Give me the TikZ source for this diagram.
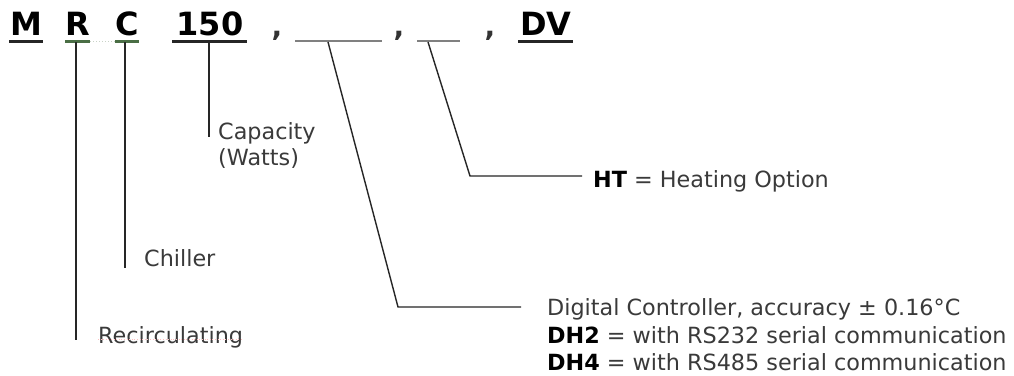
\documentclass[tikz,border=0pt]{standalone}
\usepackage{fontspec}
\setmainfont{DejaVu Sans}
\definecolor{txt}{HTML}{3A3A3A}
\definecolor{linec}{HTML}{262626}
\definecolor{ulgreen}{HTML}{4A6E45}
\definecolor{ulgray}{HTML}{808080}
\tikzset{
  code/.style={font=\bfseries\fontsize{32}{32}\selectfont, inner sep=0pt, anchor=base},
  sep/.style={font=\bfseries\fontsize{28}{28}\selectfont, text=black!80, inner sep=0pt, anchor=base},
  lbl/.style={font=\fontsize{22.3}{26}\selectfont, text=txt, inner sep=0pt, anchor=base west},
  conn/.style={draw=linec, line width=1.4pt},
  ulblack/.style={draw=black!85, line width=3pt},
  ulgr/.style={draw=ulgreen, line width=3pt},
  ulblank/.style={draw=ulgray, line width=2.2pt},
}
\begin{document}
\begin{tikzpicture}[x=1pt,y=-1pt]
\useasboundingbox[fill=white] (0,0) rectangle (1014,375);
% code segments
\node[code] (M) at (26,35) {M};
\node[code] (R) at (78,35) {R};
\node[code] (C) at (127,35) {C};
\node[code] (N) at (210,35) {150};
\node[sep] (c1) at (277,36) {,};
\node[sep] (c2) at (399,36) {,};
\node[sep] (c3) at (490,36) {,};
\node[code] (DV) at (546,35) {DV};
% underlines
\coordinate (uM1) at (9,41);  \coordinate (uM2) at (43,41);
\coordinate (uR1) at (65,41); \coordinate (uR2) at (90,41);
\coordinate (uC1) at (115,41); \coordinate (uC2) at (139,41);
\coordinate (uN1) at (172,41); \coordinate (uN2) at (247,41);
\coordinate (uA1) at (295,41); \coordinate (uA2) at (382,41);
\coordinate (uB1) at (417,41); \coordinate (uB2) at (460,41);
\coordinate (uD1) at (518,41); \coordinate (uD2) at (573,41);
\draw[ulblack] (uM1) -- (uM2);
\draw[ulgr] (uR1) -- (uR2);
\draw[ulgr] (uC1) -- (uC2);
\draw[draw=ulgreen!30, line width=1pt, dotted] (uR2) -- (uC1);
\draw[ulblack] (uN1) -- (uN2);
\draw[ulblank] (uA1) -- (uA2);
\draw[ulblank] (uB1) -- (uB2);
\draw[ulblack] (uD1) -- (uD2);
% labels
\node[lbl] (rec) at (98,343) {Recirculating};
\draw[draw=red!25, line width=0.6pt, dotted] ([yshift=4pt]rec.base west) -- ([yshift=4pt]rec.base east);
\node[lbl] (chi) at (144,266) {Chiller};
\node[lbl] (cap1) at (218,139) {Capacity};
\node[lbl] (cap2) at (218,165) {(Watts)};
\node[lbl] (ht) at (593,187) {\textbf{\color{black}HT} = Heating Option};
\node[lbl] (dc1) at (547,315) {Digital Controller, accuracy ± 0.16°C};
\node[lbl] (dc2) at (547,343) {\textbf{\color{black}DH2} = with RS232 serial communication};
\node[lbl] (dc3) at (547,370) {\textbf{\color{black}DH4} = with RS485 serial communication};
% connectors
\coordinate (eR) at (76,340);
\coordinate (eC) at (125,268);
\coordinate (eN) at (209,137);
\coordinate (sA) at (328,42);
\coordinate (kA) at (398,307);
\coordinate (eA) at (521,307);
\coordinate (sB) at (428,42);
\coordinate (kB) at (470,176);
\coordinate (eB) at (582,176);
\draw[conn] (76,42) -- (eR);
\draw[conn] (125,42) -- (eC);
\draw[conn] (209,42) -- (eN);
\draw[conn] (sA) -- (kA) -- (eA);
\draw[conn] (sB) -- (kB) -- (eB);
\end{tikzpicture}
\end{document}
